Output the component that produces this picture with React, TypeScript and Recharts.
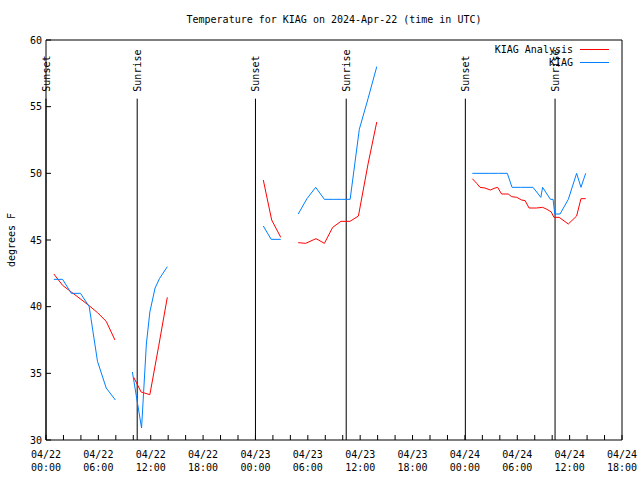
import React from 'react';
import { LineChart, Line, XAxis, YAxis, ReferenceLine, Legend } from 'recharts';

const FONT = '"DejaVu Sans Mono", monospace';
const TITLE = 'Temperature for KIAG on 2024-Apr-22 (time in UTC)';

// [hours since 04/22 00:00 UTC, deg F]; null = gap in the record
const kiagAnalysis: [number, number | null][] = [
  [0.9, 42.45], [1.9, 41.6], [2.9, 41.1], [3.9, 40.6], [4.9, 40.1], [5.9, 39.55], [6.9, 38.9], [7.9, 37.5],
  [9, null],
  [10.05, 34.7], [10.9, 33.6], [11.9, 33.4], [12.9, 37.0], [13.9, 40.7],
  [19, null],
  [24.9, 49.5], [25.86, 46.5], [26.9, 45.2],
  [28, null],
  [28.9, 44.8], [29.75, 44.75], [30.94, 45.1], [31.9, 44.75], [32.85, 45.95], [33.8, 46.4], [34.83, 46.4],
  [35.8, 46.8], [36.9, 50.7], [37.9, 53.85],
  [43, null],
  [48.85, 49.6], [49.35, 49.25], [49.73, 48.95], [50.3, 48.9], [50.9, 48.75], [51.45, 48.9], [51.75, 48.95],
  [52.2, 48.45], [52.97, 48.45], [53.36, 48.25], [53.93, 48.2], [54.5, 48.0], [54.9, 47.95], [55.35, 47.4],
  [56.2, 47.4], [56.9, 47.45], [57.4, 47.3], [57.9, 47.1], [58.2, 46.7], [58.8, 46.7], [59.85, 46.2],
  [60.8, 46.8], [61.3, 48.1], [61.84, 48.1],
];

const kiagObs: [number, number | null][] = [
  [0.9, 42.05], [1.9, 42.05], [2.9, 41.0], [3.95, 41.0], [4.95, 40.0], [5.9, 35.9], [6.9, 33.9], [7.95, 33.0],
  [9, null],
  [9.9, 35.1], [10.95, 30.9], [11.5, 37.2], [11.9, 39.6], [12.5, 41.4], [13.0, 42.1], [13.9, 43.0],
  [19, null],
  [24.9, 46.05], [25.8, 45.05], [26.9, 45.05],
  [28, null],
  [28.9, 46.95], [29.9, 48.1], [30.9, 48.95], [31.9, 48.05], [32.9, 48.05], [33.9, 48.05], [34.85, 48.05],
  [35.9, 53.3], [36.9, 55.6], [37.9, 58.0],
  [43, null],
  [48.85, 50.0], [49.85, 50.0], [50.85, 50.0], [51.85, 50.0], [52.86, 50.0], [53.4, 48.95], [54.4, 48.95],
  [55.8, 48.95], [56.7, 48.2], [56.9, 48.95], [57.8, 48.05], [58.1, 48.05], [58.3, 46.95], [58.9, 46.95],
  [59.85, 48.05], [60.8, 50.0], [61.3, 48.95], [61.84, 50.0],
];

const seriesOrder = ['KIAG Analysis', 'KIAG'];
const sunsetHours = [0, 24, 48.05];
const sunriseHours = [10.45, 34.4, 58.33];
const sunLineTop = 55.6;

const xTickLabels: Record<number, string[]> = {
  0: ['04/22', '00:00'], 6: ['04/22', '06:00'], 12: ['04/22', '12:00'], 18: ['04/22', '18:00'],
  24: ['04/23', '00:00'], 30: ['04/23', '06:00'], 36: ['04/23', '12:00'], 42: ['04/23', '18:00'],
  48: ['04/24', '00:00'], 54: ['04/24', '06:00'], 60: ['04/24', '12:00'], 66: ['04/24', '18:00'],
};
const xTicks = [0, 2, 4, 6, 8, 10, 12, 14, 16, 18, 20, 22, 24, 26, 28, 30, 32, 34, 36, 38, 40, 42, 44, 46, 48, 50, 52, 54, 56, 58, 60, 62, 64, 66];
const yTicks = [30, 35, 40, 45, 50, 55, 60];

const toRows = (pts: [number, number | null][]) => pts.map(([t, v]) => ({ t, v }));

const XTick = ({ x, y, payload }: any) => {
  const lab = xTickLabels[payload.value];
  if (!lab) return null;
  return (
    <text x={x} textAnchor="middle" fontFamily={FONT} fontSize={10} fill="#000">
      <tspan x={x} y={y + 13}>{lab[0]}</tspan>
      <tspan x={x} y={y + 26}>{lab[1]}</tspan>
    </text>
  );
};

const SunLabel = ({ viewBox, value }: any) => {
  if (!viewBox) return null;
  const x = viewBox.x + 0.5;
  const top = Math.min(viewBox.y, viewBox.y + (viewBox.height || 0)) - 7;
  return (
    <text
      transform={`translate(${x},${top}) rotate(-90)`}
      textAnchor="start"
      dominantBaseline="central"
      fontFamily={FONT}
      fontSize={10}
      fill="#000"
    >
      {value}
    </text>
  );
};

const YLabel = ({ viewBox }: any) => {
  const cy = viewBox.y + viewBox.height / 2;
  return (
    <text transform={`translate(11,${cy}) rotate(-90)`} textAnchor="middle" dominantBaseline="central"
      fontFamily={FONT} fontSize={10} fill="#000">
      degrees F
    </text>
  );
};

const renderLegend = ({ payload }: any) => {
  const items = [...(payload || [])].sort(
    (a: any, b: any) => seriesOrder.indexOf(a.value) - seriesOrder.indexOf(b.value)
  );
  return (
    <div style={{ fontFamily: FONT, fontSize: 10, color: '#000' }}>
      {items.map((p: any) => (
        <div key={p.value} style={{ display: 'flex', alignItems: 'center', justifyContent: 'flex-end', height: 13 }}>
          <span>{p.value}</span>
          <span style={{ display: 'inline-block', width: 29, height: 1, background: p.color, marginLeft: 7 }} />
        </div>
      ))}
    </div>
  );
};

export default function App() {
  return (
    <div style={{ position: 'absolute', left: 0, top: 0, width: 640, height: 480, background: '#fff' }}>
      <div style={{ position: 'absolute', left: 46, top: 14, width: 576, textAlign: 'center', fontFamily: FONT, fontSize: 10, lineHeight: '12px' }}>
        {TITLE}
      </div>
      <LineChart width={640} height={480} margin={{ top: 39, right: 17, bottom: 10, left: 0 }}>
        <XAxis
          type="number" dataKey="t" domain={[0, 66]} ticks={xTicks} allowDataOverflow
          height={30} tickSize={-5} tickMargin={10} tick={<XTick />} interval={0}
          stroke="#000" tickLine={{ stroke: '#000' }}
        />
        <XAxis
          xAxisId="top" orientation="top" type="number" domain={[0, 66]} ticks={xTicks} allowDataOverflow
          height={1} tickSize={-5} tick={false} interval={0} stroke="#000"
        />
        <YAxis
          type="number" domain={[30, 60]} ticks={yTicks} allowDataOverflow width={46}
          tickSize={-5} tickMargin={9} interval={0} stroke="#000"
          tick={{ fontFamily: FONT, fontSize: 10, fill: '#000' }}
          label={{ content: YLabel }}
        />
        <YAxis
          yAxisId="right" orientation="right" type="number" domain={[30, 60]} ticks={yTicks} allowDataOverflow
          width={1} tickSize={-5} tick={false} interval={0} stroke="#000"
        />
        {sunsetHours.map((h) => (
          <ReferenceLine key={'ss' + h} segment={[{ x: h, y: 30 }, { x: h, y: sunLineTop }]} stroke="#000"
            label={{ value: 'Sunset', content: SunLabel }} />
        ))}
        {sunriseHours.map((h) => (
          <ReferenceLine key={'sr' + h} segment={[{ x: h, y: 30 }, { x: h, y: sunLineTop }]} stroke="#000"
            label={{ value: 'Sunrise', content: SunLabel }} />
        ))}
        <Line data={toRows(kiagAnalysis)} dataKey="v" name="KIAG Analysis" stroke="#ff0000" strokeWidth={1}
          dot={false} connectNulls={false} isAnimationActive={false} type="linear" />
        <Line data={toRows(kiagObs)} dataKey="v" name="KIAG" stroke="#0080ff" strokeWidth={1}
          dot={false} connectNulls={false} isAnimationActive={false} type="linear" />
        <Legend layout="vertical" align="center" verticalAlign="middle" content={renderLegend}
          wrapperStyle={{ top: 43, right: 31, left: 'auto', width: 'auto' }} />
      </LineChart>
    </div>
  );
}
